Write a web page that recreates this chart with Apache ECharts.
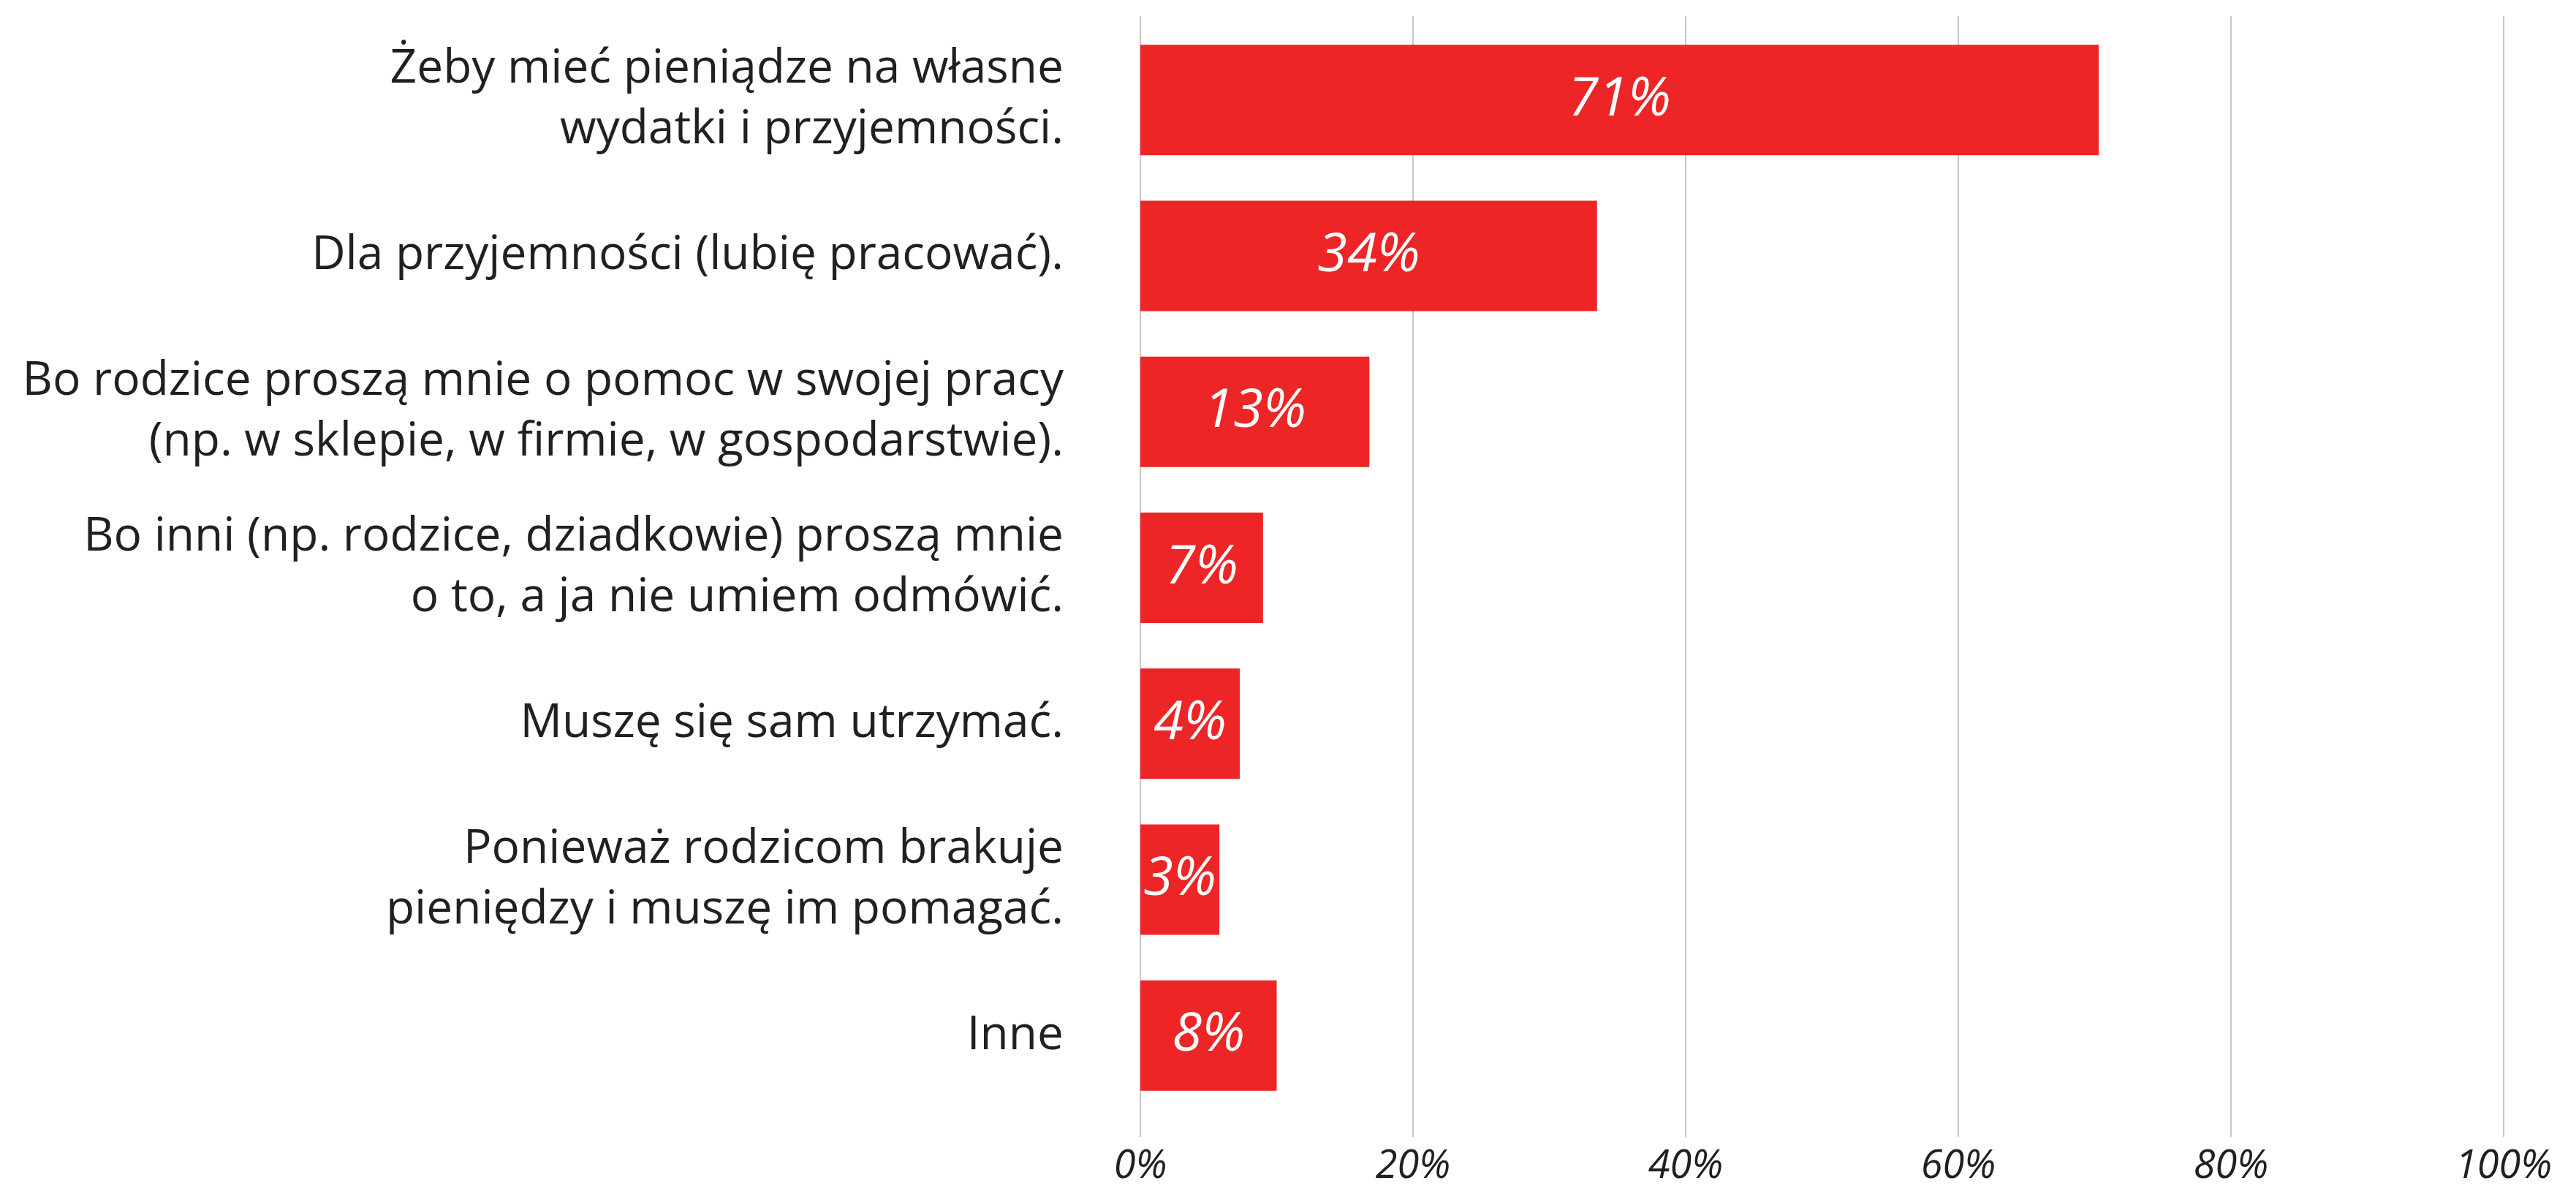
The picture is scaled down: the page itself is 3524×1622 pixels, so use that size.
<!DOCTYPE html>
<html>
<head>
<meta charset="utf-8">
<script src="https://cdn.jsdelivr.net/npm/echarts@6/dist/echarts.min.js"></script>
<style>
html,body{margin:0;padding:0;background:#fff;}
#chart{width:3524px;height:1622px;}
</style>
</head>
<body>
<div id="chart"></div>
<script>
const categories = [
  "Żeby mieć pieniądze na własne\nwydatki i przyjemności.",
  "Dla przyjemności (lubię pracować).",
  "Bo rodzice proszą mnie o pomoc w swojej pracy\n(np. w sklepie, w firmie, w gospodarstwie).",
  "Bo inni (np. rodzice, dziadkowie) proszą mnie\no to, a ja nie umiem odmówić.",
  "Muszę się sam utrzymać.",
  "Ponieważ rodzicom brakuje\npieniędzy i muszę im pomagać.",
  "Inne"
];
const barValues = [70.3, 33.5, 16.8, 9.0, 7.3, 5.8, 10.0];
const barLabels = ["71%", "34%", "13%", "7%", "4%", "3%", "8%"];
const axisMin = 0, axisMax = 100, axisStep = 20;

const FONT = "'Open Sans', 'Noto Sans', sans-serif";
const TEXT = "#231f20";
const RED = "#ee2526";

const chart = echarts.init(document.getElementById('chart'), null, {renderer: 'canvas'});
chart.setOption({
  animation: false,
  backgroundColor: '#ffffff',
  grid: [
    {left: 1560, right: 99, top: 22, bottom: 67, containLabel: false, outerBoundsMode: 'none'},
    {left: 1560, right: 99, top: 30, height: 1493, containLabel: false, outerBoundsMode: 'none'}
  ],
  xAxis: [
    {
      gridIndex: 0, type: 'value', min: axisMin, max: axisMax, interval: axisStep,
      axisLine: {show: false}, axisTick: {show: false},
      splitLine: {show: true, lineStyle: {color: '#c8c8c8', width: 2}},
      axisLabel: {
        formatter: v => v + '%', fontFamily: FONT, fontSize: 54, fontStyle: 'italic',
        color: TEXT, margin: 14
      }
    },
    {
      gridIndex: 1, type: 'value', min: axisMin, max: axisMax, show: false
    }
  ],
  yAxis: [
    {gridIndex: 0, type: 'category', data: categories, show: false},
    {
      gridIndex: 1, type: 'category', data: categories, inverse: true,
      axisLine: {show: false}, axisTick: {show: false}, splitLine: {show: false},
      axisLabel: {
        fontFamily: FONT, fontSize: 64, color: TEXT, margin: 105,
        lineHeight: 83, align: 'right'
      }
    }
  ],
  series: [{
    type: 'bar', xAxisIndex: 1, yAxisIndex: 1,
    data: barValues, barWidth: 151,
    itemStyle: {color: RED},
    label: {
      show: true, position: 'inside',
      formatter: p => barLabels[p.dataIndex],
      fontFamily: FONT, fontSize: 74, fontStyle: 'italic', color: '#ffffff'
    }
  }]
});
</script>
</body>
</html>
